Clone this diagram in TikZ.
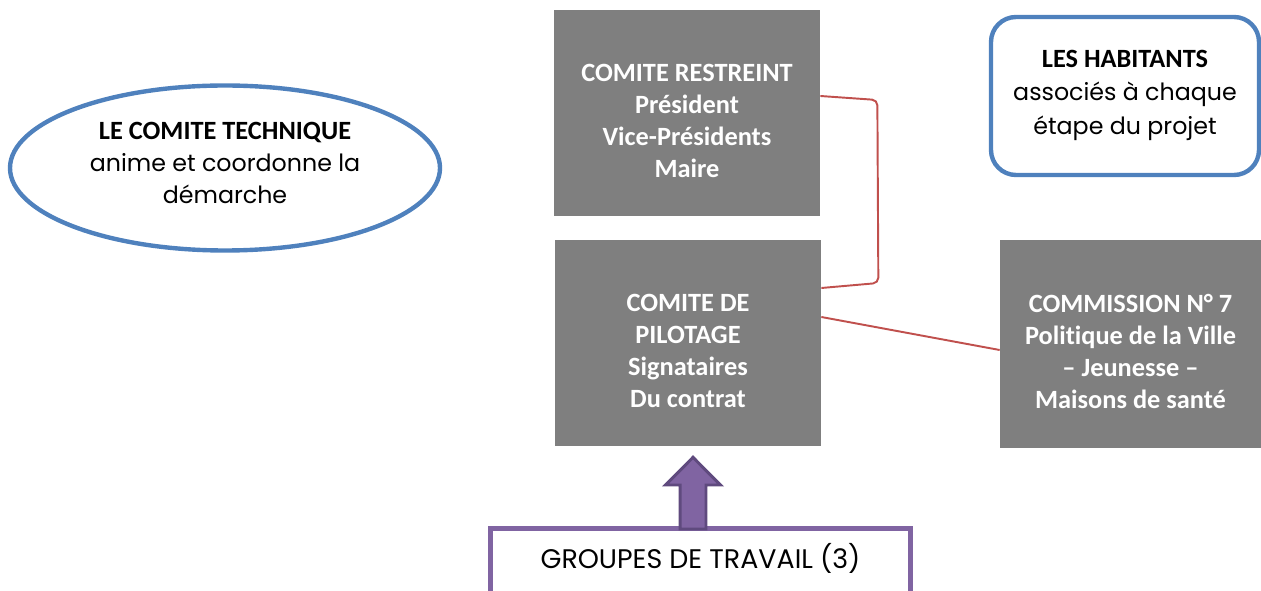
\documentclass[tikz,border=0pt]{standalone}
\usepackage{fontspec}
\setmainfont{Poppins}
\newfontfamily\calib[Ligatures=NoCommon]{Carlito}
\usetikzlibrary{shapes.geometric, calc}
\definecolor{gris}{HTML}{7F7F7F}
\definecolor{bleu}{HTML}{4F81BD}
\definecolor{rouge}{HTML}{C0504D}
\definecolor{violet}{HTML}{8064A2}
\definecolor{violetfonce}{HTML}{5F4A7E}
\newcommand{\hautligne}{\rule{0pt}{19pt}}

\begin{document}
\begin{tikzpicture}[boite/.style={rectangle, fill=gris, text=white, align=center, inner sep=0pt,
            font=\calib\bfseries\fontsize{15}{18.3}\selectfont, minimum width=5.32cm, minimum height=4.12cm},
        texte/.style={align=center, font=\fontsize{13.5}{19}\selectfont},
        lien/.style={draw=rouge, line width=1.1pt}]
        \useasboundingbox (0,0) rectangle (25.22,11.8);
        \clip (0,0) rectangle (25.22,11.8);

        \node[boite] (restreint) at (13.74,9.54) {\hautligne COMITE RESTREINT\\Président\\Vice-Présidents\\Maire};
        \node[boite] (pilotage) at (13.76,4.94) {\hautligne COMITE DE\\PILOTAGE\\Signataires\\Du contrat};
        \node[boite, minimum width=5.22cm, minimum height=4.16cm] (commission) at (22.61,4.92)
            {\hautligne COMMISSION N° 7\\Politique de la Ville\\– Jeunesse –\\Maisons de santé};

        \node[texte, ellipse, draw=bleu, line width=2.5pt, minimum width=8.6cm, minimum height=3.3cm, inner sep=0pt,
            font=\fontsize{13.5}{18}\selectfont]
            (technique) at (4.5,8.44) {{\calib\bfseries\fontsize{15}{18}\selectfont LE COMITE TECHNIQUE}\\anime et coordonne la\\démarche\\[-12pt]};
        \node[texte, draw=bleu, line width=2.5pt, rounded corners=0.5cm, minimum width=5.36cm, minimum height=3.16cm]
            (habitants) at (22.5,9.88) {{\calib\bfseries\fontsize{15}{19}\selectfont LES HABITANTS}\\associés à chaque\\étape du projet\\[-14.5pt]};

        \node[texte, font=\fontsize{15.3}{19}\selectfont, minimum width=8.38cm, minimum height=1.16cm] (travail)
            at (14.01,0.64) {GROUPES DE TRAVAIL (3)};
        \draw[violet, line width=2.5pt] ($(travail.south west)+(0,-0.5)$) |- (travail.north) -| ($(travail.south east)+(0,-0.5)$);

        % fleche des groupes vers le comite de pilotage
        \coordinate (pied) at (13.86,1.22);
        \coordinate (pointe) at ($(pilotage.south)+(0.1,-0.22)$);
        \draw[fill=violet, draw=violetfonce, line width=1.7pt, line join=miter]
            ($(pied)+(-0.26,0)$) -- ($(pied)+(-0.26,0.88)$) -- ($(pied)+(-0.55,0.88)$) -- (pointe)
            -- ($(pied)+(0.55,0.88)$) -- ($(pied)+(0.26,0.88)$) -- ($(pied)+(0.26,0)$) -- cycle;

        \coordinate (r1) at ($(restreint.east)+(0,0.34)$);
        \coordinate (p1) at ($(pilotage.east)+(0,1.1)$);
        \draw[lien, rounded corners=3pt] (r1) -- ($(r1)+(1.14,-0.08)$) -- ($(p1)+(1.14,0.1)$) -- (p1);
        \draw[lien] ($(pilotage.east)+(0,0.52)$) -- ($(commission.west)+(0,-0.12)$);
    \end{tikzpicture}
\end{document}
